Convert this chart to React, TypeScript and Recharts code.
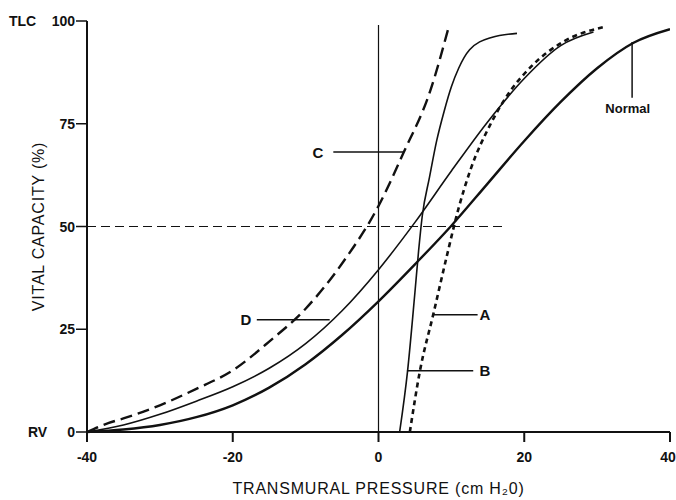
import React from 'react'
import {
  LineChart,
  Line,
  XAxis,
  YAxis,
  ReferenceLine,
  ReferenceDot
} from 'recharts'

const xTicks = [-40, -20, 0, 20, 40]
const yTicks = [0, 25, 50, 75, 100]

const normalCurve = [
  { x: -40, y: 0 }, { x: -35, y: 0.6 }, { x: -30, y: 1.7 }, { x: -25, y: 3.6 },
  { x: -20, y: 6.5 }, { x: -15, y: 10.8 }, { x: -10, y: 16.5 }, { x: -5, y: 23.6 },
  { x: 0, y: 31.8 }, { x: 5, y: 40.8 }, { x: 10, y: 50.2 }, { x: 15, y: 60.5 },
  { x: 20, y: 70.8 }, { x: 25, y: 80.3 }, { x: 30, y: 88.5 }, { x: 35, y: 94.7 }, { x: 40, y: 98 }
]

const curveA = [
  { x: 4.3, y: 0 }, { x: 5.7, y: 15 }, { x: 7.5, y: 28.5 }, { x: 9.4, y: 43 },
  { x: 11, y: 54.5 }, { x: 12.6, y: 63.7 }, { x: 15.4, y: 75 }, { x: 18.1, y: 83 },
  { x: 21, y: 89 }, { x: 25.4, y: 95 }, { x: 30.8, y: 98.5 }
]

const curveB = [
  { x: 2.9, y: 0 }, { x: 4, y: 15 }, { x: 5, y: 34 }, { x: 5.5, y: 44 },
  { x: 6, y: 52.5 }, { x: 7, y: 62 }, { x: 8, y: 71 }, { x: 9, y: 78 },
  { x: 10, y: 84 }, { x: 11, y: 88.5 }, { x: 12.5, y: 93 }, { x: 15.5, y: 96 }, { x: 19, y: 97 }
]

const curveC = [
  { x: -40, y: 0 }, { x: -37, y: 2.2 }, { x: -35, y: 3.3 }, { x: -30, y: 6.5 },
  { x: -25, y: 10.5 }, { x: -20, y: 15 }, { x: -15, y: 22 }, { x: -10, y: 30 },
  { x: -5, y: 41 }, { x: 0, y: 55 }, { x: 3.4, y: 67.8 }, { x: 7.1, y: 83 }, { x: 9.7, y: 99 }
]

const curveD = [
  { x: -40, y: 0 }, { x: -35, y: 1.7 }, { x: -30, y: 4.3 }, { x: -25, y: 7.5 },
  { x: -20, y: 11 }, { x: -15, y: 15.5 }, { x: -10, y: 21.5 }, { x: -5, y: 29.5 },
  { x: 0, y: 39.5 }, { x: 5, y: 51 }, { x: 10, y: 63.5 }, { x: 15, y: 75.5 },
  { x: 20, y: 86 }, { x: 25, y: 94 }, { x: 29.5, y: 97.3 }
]

// leader lines and their letters, in data units
const leaders = [
  { label: 'C', x1: -6.2, x2: 3.4, y1: 68.1, y2: 68.1, tx: -8.3, ty: 68.1 },
  { label: 'D', x1: -16.7, x2: -6.7, y1: 27.3, y2: 27.3, tx: -18.2, ty: 27.3 },
  { label: 'A', x1: 7.5, x2: 13.6, y1: 28.5, y2: 28.5, tx: 14.6, ty: 28.5 },
  { label: 'B', x1: 3.9, x2: 13.0, y1: 14.9, y2: 14.9, tx: 14.6, ty: 14.9 },
  { label: 'Normal', x1: 34.8, x2: 34.8, y1: 94.9, y2: 81.3, tx: 34.2, ty: 78.8 }
]

const font = '"Liberation Sans", Arial, Helvetica, sans-serif'
const ink = '#111'

function YTick({ x, y, payload }: any) {
  return (
    <g>
      <text x={x} y={y} dy="0.36em" textAnchor="end" fontSize={14} fontWeight="bold" fontFamily={font} fill={ink}>
        {payload.value}
      </text>
      {payload.value === 100 && (
        <text x={x - 66} y={y} dy="0.36em" fontSize={14} fontWeight="bold" fontFamily={font} fill={ink}>TLC</text>
      )}
      {payload.value === 0 && (
        <text x={x - 47} y={y} dy="0.36em" fontSize={14} fontWeight="bold" fontFamily={font} fill={ink}>RV</text>
      )}
    </g>
  )
}

function XTick({ x, y, payload }: any) {
  return (
    <text x={x} y={y} dy="0.71em" textAnchor="middle" fontSize={14} fontWeight="bold" fontFamily={font} fill={ink}>
      {payload.value}
    </text>
  )
}

export default function App() {
  return (
    <div style={{ position: 'absolute', left: 0, top: 0, background: '#fff' }}>
      <LineChart width={676} height={500} margin={{ top: 21, right: 6, left: 0, bottom: 0 }}>
        <XAxis
          type="number"
          dataKey="x"
          domain={[-40, 40]}
          ticks={xTicks}
          allowDataOverflow
          height={68}
          tickSize={10}
          tickMargin={10}
          tick={<XTick />}
          axisLine={{ stroke: ink, strokeWidth: 2 }}
          tickLine={{ stroke: ink, strokeWidth: 2 }}
          label={{
            value: 'TRANSMURAL PRESSURE (cm H₂0)',
            position: 'insideBottom',
            offset: 6,
            style: { fontSize: 16, fontFamily: font, fill: ink, letterSpacing: 0.8 }
          }}
        />
        <YAxis
          type="number"
          dataKey="y"
          domain={[0, 100]}
          ticks={yTicks}
          width={87}
          tickSize={11}
          tickMargin={1}
          tick={<YTick />}
          axisLine={{ stroke: ink, strokeWidth: 2 }}
          tickLine={{ stroke: ink, strokeWidth: 1.5 }}
          label={{
            value: 'VITAL CAPACITY (%)',
            angle: -90,
            position: 'insideLeft',
            offset: 38,
            style: { fontSize: 16, fontFamily: font, fill: ink, letterSpacing: 0.8, textAnchor: 'middle' }
          }}
        />

        <ReferenceLine segment={[{ x: 0, y: 0 }, { x: 0, y: 99 }]} stroke={ink} strokeWidth={1.2} />
        <ReferenceLine
          segment={[{ x: -40, y: 50 }, { x: 17.5, y: 50 }]}
          stroke={ink}
          strokeWidth={1.2}
          strokeDasharray="9 5"
        />

        {leaders.map(l => (
          <ReferenceLine
            key={'line-' + l.label}
            segment={[{ x: l.x1, y: l.y1 }, { x: l.x2, y: l.y2 }]}
            stroke={ink}
            strokeWidth={1.5}
          />
        ))}
        {leaders.map(l => (
          <ReferenceDot
            key={'text-' + l.label}
            x={l.tx}
            y={l.ty}
            r={0}
            shape={(p: any) => (
              <text
                x={p.cx}
                y={p.cy}
                dy="0.36em"
                textAnchor="middle"
                fontSize={l.label === 'Normal' ? 13 : 15}
                fontWeight="bold"
                fontFamily={font}
                fill={ink}
              >
                {l.label}
              </text>
            )}
          />
        ))}

        <Line data={curveD} dataKey="y" type="monotone" stroke={ink} strokeWidth={1.6} dot={false} isAnimationActive={false} />
        <Line data={normalCurve} dataKey="y" type="monotone" stroke={ink} strokeWidth={2.4} dot={false} isAnimationActive={false} />
        <Line data={curveB} dataKey="y" type="monotone" stroke={ink} strokeWidth={1.6} dot={false} isAnimationActive={false} />
        <Line
          data={curveA}
          dataKey="y"
          type="monotone"
          stroke={ink}
          strokeWidth={2.6}
          strokeDasharray="5 4"
          dot={false}
          isAnimationActive={false}
        />
        <Line
          data={curveC}
          dataKey="y"
          type="monotone"
          stroke={ink}
          strokeWidth={2.4}
          strokeDasharray="12 6"
          dot={false}
          isAnimationActive={false}
        />
      </LineChart>
    </div>
  )
}
